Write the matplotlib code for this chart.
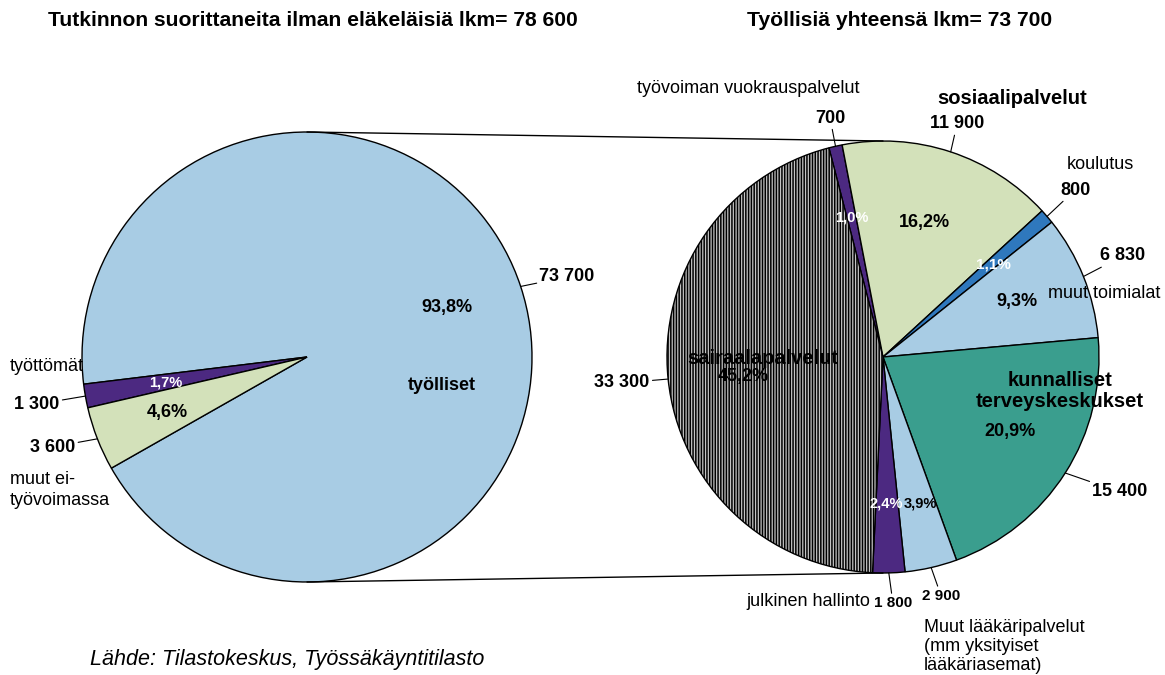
import numpy as np
import matplotlib.pyplot as plt
from matplotlib.patches import ConnectionPatch

plt.rcParams['font.family'] = ['Liberation Sans', 'DejaVu Sans']
plt.rcParams['hatch.linewidth'] = 1.1

# Vasen piirakka: tutkinnon suorittaneet
vasen_luokat = ['työlliset', 'työttömät', 'muut ei-työvoimassa']
vasen_osuus = [93.8, 1.7, 4.6]
vasen_lkm = ['73 700', '1 300', '3 600']

# Oikea piirakka: työlliset toimialoittain
oikea_luokat = ['työvoiman vuokrauspalvelut', 'sosiaalipalvelut', 'koulutus', 'muut toimialat',
                'kunnalliset terveyskeskukset', 'Muut lääkäripalvelut', 'julkinen hallinto',
                'sairaalapalvelut']
oikea_osuus = [1.0, 16.2, 1.1, 9.3, 20.9, 3.9, 2.4, 45.2]
oikea_lkm = ['700', '11 900', '800', '6 830', '15 400', '2 900', '1 800', '33 300']

VAALEANSININEN = '#a8cce4'
VIOLETTI = '#4c2981'
VIHREA = '#d3e1ba'
SININEN = '#2f78bd'
TURKOOSI = '#3a9e8e'
HARMAA = '#c4c4c4'

W, H = 1165, 675
fig = plt.figure(figsize=(W / 100, H / 100), dpi=100)
fig.patch.set_facecolor('white')


def akseli(cx, cy, r):
    # akseli pikseleinä, piirakan säde = 1
    return fig.add_axes([(cx - r) / W, (H - cy - r) / H, 2 * r / W, 2 * r / H])


def reuna(w):
    t = np.deg2rad((w.theta1 + w.theta2) / 2)
    return np.cos(t), np.sin(t)


fs = 13

# ===== VASEN =====
ax1 = akseli(307, 357, 225)
w1, _ = ax1.pie(vasen_osuus, colors=[VAALEANSININEN, VIOLETTI, VIHREA], startangle=209.6,
                counterclock=True, radius=1,
                wedgeprops=dict(edgecolor='black', linewidth=1))
ax1.set_xlim(-1, 1)
ax1.set_ylim(-1, 1)
ax1.axis('off')

ax1.text(0.62, 0.22, '93,8%', ha='center', va='center', fontsize=fs, fontweight='bold')
ax1.text(0.60, -0.125, 'työlliset', ha='center', va='center', fontsize=fs, fontweight='bold')
ax1.text(-0.63, -0.115, '1,7%', ha='center', va='center', fontsize=10.5, fontweight='bold', color='white')
ax1.text(-0.62, -0.245, '4,6%', ha='center', va='center', fontsize=fs, fontweight='bold')

for w, lkm, pos in zip(w1, vasen_lkm, [(1.156, 0.356), (-1.2, -0.21), (-1.13, -0.40)]):
    ax1.annotate(lkm, xy=reuna(w), xytext=pos, ha='center', va='center', fontsize=fs,
                 fontweight='bold', annotation_clip=False,
                 arrowprops=dict(arrowstyle='-', lw=0.8, color='black', shrinkA=0, shrinkB=0))
ax1.text(-1.32, -0.044, 'työttömät', ha='left', va='center', fontsize=fs)
ax1.text(-1.32, -0.59, 'muut ei-\ntyövoimassa', ha='left', va='center', fontsize=fs, linespacing=1.3)

# ===== OIKEA =====
ax2 = akseli(883, 357, 216)
varit = [VIOLETTI, VIHREA, SININEN, VAALEANSININEN, TURKOOSI, VAALEANSININEN, VIOLETTI, HARMAA]
w2, _ = ax2.pie(oikea_osuus, colors=varit, startangle=104.5, counterclock=False, radius=1,
                wedgeprops=dict(edgecolor='black', linewidth=1))
w2[-1].set_hatch('||||||')
ax2.set_xlim(-1, 1)
ax2.set_ylim(-1, 1)
ax2.axis('off')

# prosentit
pros_pos = [(-0.144, 0.644), (0.19, 0.625), (0.51, 0.43), (0.62, 0.255),
            (0.588, -0.347), (0.171, -0.676), (0.014, -0.676), (-0.648, -0.088)]
pros_koko = [10.5, fs, 11, fs, fs, 10.5, 10.5, fs]
pros_vari = ['white', 'black', 'white', 'black', 'black', 'black', 'white', 'black']
for p, pos, koko, c in zip(oikea_osuus, pros_pos, pros_koko, pros_vari):
    ax2.text(pos[0], pos[1], f'{p:.1f}%'.replace('.', ','), ha='center', va='center',
             fontsize=koko, fontweight='bold', color=c)

# lukumäärät johtoviivoineen
lkm_pos = [(-0.245, 1.106), (0.343, 1.079), (0.889, 0.773), (1.111, 0.468),
           (1.097, -0.625), (0.269, -1.106), (0.046, -1.139), (-1.208, -0.12)]
lkm_koko = [fs, fs, fs, fs, fs, 11, 11, fs]
for w, lkm, pos, koko in zip(w2, oikea_lkm, lkm_pos, lkm_koko):
    ax2.annotate(lkm, xy=reuna(w), xytext=pos, ha='center', va='center', fontsize=koko,
                 fontweight='bold', annotation_clip=False,
                 arrowprops=dict(arrowstyle='-', lw=0.8, color='black', shrinkA=0, shrinkB=0))

# nimet
ax2.text(-0.625, 1.245, 'työvoiman vuokrauspalvelut', ha='center', va='center', fontsize=fs)
ax2.text(0.597, 1.199, 'sosiaalipalvelut', ha='center', va='center', fontsize=14.5, fontweight='bold')
ax2.text(1.005, 0.889, 'koulutus', ha='center', va='center', fontsize=fs)
ax2.text(1.023, 0.296, 'muut toimialat', ha='center', va='center', fontsize=fs)
ax2.text(0.82, -0.157, 'kunnalliset\nterveyskeskukset', ha='center', va='center',
         fontsize=14.5, fontweight='bold', linespacing=1.1)
ax2.text(-0.556, -0.005, 'sairaalapalvelut', ha='center', va='center', fontsize=14.5, fontweight='bold')
ax2.text(-0.06, -1.134, 'julkinen hallinto', ha='right', va='center', fontsize=fs)
ax2.text(0.19, -1.213, 'Muut lääkäripalvelut\n(mm yksityiset\nlääkäriasemat)', ha='left', va='top',
         fontsize=fs, linespacing=1.17)

# yhdysviivat piirakoiden välillä
for y in (1, -1):
    con = ConnectionPatch(xyA=(0, y), coordsA=ax1.transData, xyB=(0, y), coordsB=ax2.transData,
                          color='black', lw=1)
    fig.add_artist(con)

# otsikot
fig.text(313 / W, 1 - 20 / H, 'Tutkinnon suorittaneita ilman eläkeläisiä lkm= 78 600',
         ha='center', va='center', fontsize=15.2, fontweight='bold')
fig.text(900 / W, 1 - 20 / H, 'Työllisiä yhteensä lkm= 73 700',
         ha='center', va='center', fontsize=15.2, fontweight='bold')
fig.text(90 / W, 1 - 659 / H, 'Lähde: Tilastokeskus, Työssäkäyntitilasto',
         ha='left', va='center', fontsize=15.5, style='italic')

plt.savefig('out.png', dpi=100, facecolor='white')
